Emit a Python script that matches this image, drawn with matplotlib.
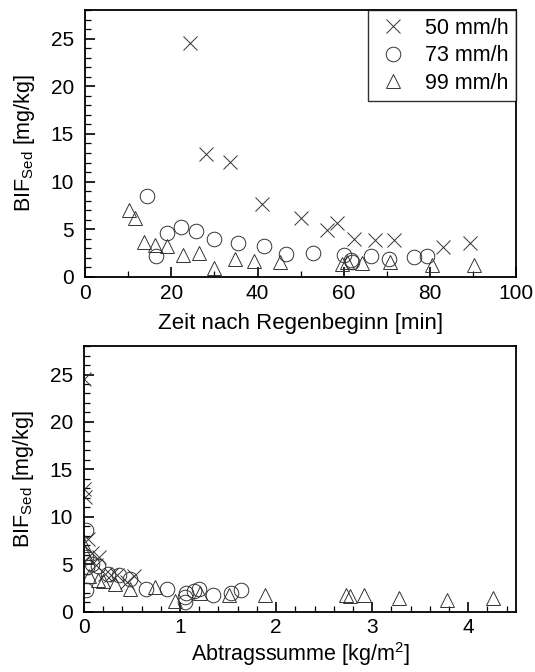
import matplotlib
matplotlib.use("Agg")
import matplotlib.pyplot as plt
from matplotlib.ticker import MultipleLocator

plt.rcParams['font.family'] = ['Liberation Sans', 'DejaVu Sans']
plt.rcParams['mathtext.fontset'] = 'custom'
plt.rcParams['mathtext.rm'] = 'Liberation Sans'

# Top: BIF vs. time after rain start
t50 = [24.4, 28.1, 33.6, 41.1, 50.0, 56.2, 58.5, 62.4, 67.2, 71.7, 82.9, 89.3]
b50 = [24.5, 12.9, 12.1, 7.6, 6.15, 4.9, 5.7, 3.95, 3.9, 3.9, 3.1, 3.6]
t73 = [14.3, 16.5, 19.0, 22.2, 25.7, 29.8, 35.5, 41.5, 46.6, 52.9, 60.1, 61.6, 61.8, 66.3, 70.5, 76.2, 79.2]
b73 = [8.5, 2.2, 4.6, 5.2, 4.8, 4.0, 3.6, 3.25, 2.4, 2.5, 2.3, 1.8, 1.6, 2.2, 1.85, 2.05, 2.2]
t99 = [10.3, 11.6, 13.7, 16.3, 19.0, 22.6, 26.4, 30.0, 34.7, 39.1, 45.2, 59.7, 60.8, 64.3, 70.8, 80.4, 90.2]
b99 = [7.0, 6.15, 3.7, 3.35, 3.2, 2.3, 2.55, 0.9, 1.85, 1.7, 1.6, 1.4, 1.6, 1.5, 1.6, 1.2, 1.25]

# Bottom: BIF vs. cumulative soil loss
s50 = [0.0, 0.0, 0.01, 0.04, 0.08, 0.12, 0.16, 0.22, 0.28, 0.34, 0.45, 0.52]
c50 = [24.5, 12.9, 12.1, 7.6, 6.2, 4.9, 5.7, 4.0, 3.9, 3.9, 3.1, 3.7]
s73 = [0.02, 0.02, 0.03, 0.02, 0.08, 0.15, 0.25, 0.36, 0.48, 0.65, 0.86, 1.05, 1.05, 1.06, 1.14, 1.2, 1.34, 1.53, 1.63]
c73 = [8.6, 2.3, 4.7, 5.7, 5.0, 4.8, 4.0, 3.8, 3.4, 2.4, 2.4, 1.5, 1.0, 2.0, 2.2, 2.4, 1.7, 2.0, 2.3]
s99 = [0.0, 0.01, 0.05, 0.15, 0.2, 0.32, 0.48, 0.74, 0.95, 1.21, 1.51, 1.88, 2.73, 2.77, 2.92, 3.28, 3.78, 4.26]
c99 = [7.0, 6.2, 3.7, 3.3, 3.2, 2.9, 2.4, 2.6, 1.1, 2.0, 1.7, 1.7, 1.7, 1.6, 1.7, 1.4, 1.2, 1.4]

labels = ["50 mm/h", "73 mm/h", "99 mm/h"]

fig = plt.figure(figsize=(5.35, 6.72), dpi=100)
ax1 = fig.add_axes([0.159, 0.588, 0.806, 0.397])
ax2 = fig.add_axes([0.157, 0.09, 0.808, 0.395])


def draw(ax, xs, ys):
    ax.plot(xs[0], ys[0], ls='none', marker='x', ms=9.5, mew=0.7, color='#333333', label=labels[0])
    ax.plot(xs[1], ys[1], ls='none', marker='o', ms=10.5, mew=0.7, mfc='none', color='#333333', label=labels[1])
    ax.plot(xs[2], ys[2], ls='none', marker='^', ms=10.5, mew=0.7, mfc='none', color='#333333', label=labels[2])
    ax.set_ylim(0, 28)
    ax.yaxis.set_major_locator(MultipleLocator(5))
    ax.yaxis.set_minor_locator(MultipleLocator(1))
    ax.tick_params(which='both', direction='in', top=False, right=False, labelsize=15, colors='black')
    ax.tick_params(which='major', length=7, width=1.2)
    ax.tick_params(which='minor', length=4, width=0.9)
    ax.tick_params(axis='y', pad=8)
    ax.tick_params(axis='x', pad=5)
    for s in ax.spines.values():
        s.set_linewidth(1.3)
    ax.set_ylabel("BIF$_{\\mathrm{Sed}}$ [mg/kg]", fontsize=15.5, labelpad=10)


draw(ax1, [t50, t73, t99], [b50, b73, b99])
ax1.set_xlim(0, 100)
ax1.xaxis.set_major_locator(MultipleLocator(20))
ax1.xaxis.set_minor_locator(MultipleLocator(10))
ax1.set_xlabel("Zeit nach Regenbeginn [min]", fontsize=16, labelpad=7)
leg = ax1.legend(loc='upper right', frameon=True, fancybox=False, fontsize=15.5,
                 borderaxespad=0, handletextpad=0.7, labelspacing=0.3, borderpad=0.35,
                 handlelength=1.6)
leg.get_frame().set_edgecolor('black')
leg.get_frame().set_linewidth(1.0)

draw(ax2, [s50, s73, s99], [c50, c73, c99])
ax2.set_xlim(0, 4.5)
ax2.xaxis.set_major_locator(MultipleLocator(1))
ax2.xaxis.set_minor_locator(MultipleLocator(0.2))
ax2.set_xlabel("Abtragssumme [kg/m$^2$]", fontsize=15.5, labelpad=2)

fig.savefig("out.png", dpi=100)
